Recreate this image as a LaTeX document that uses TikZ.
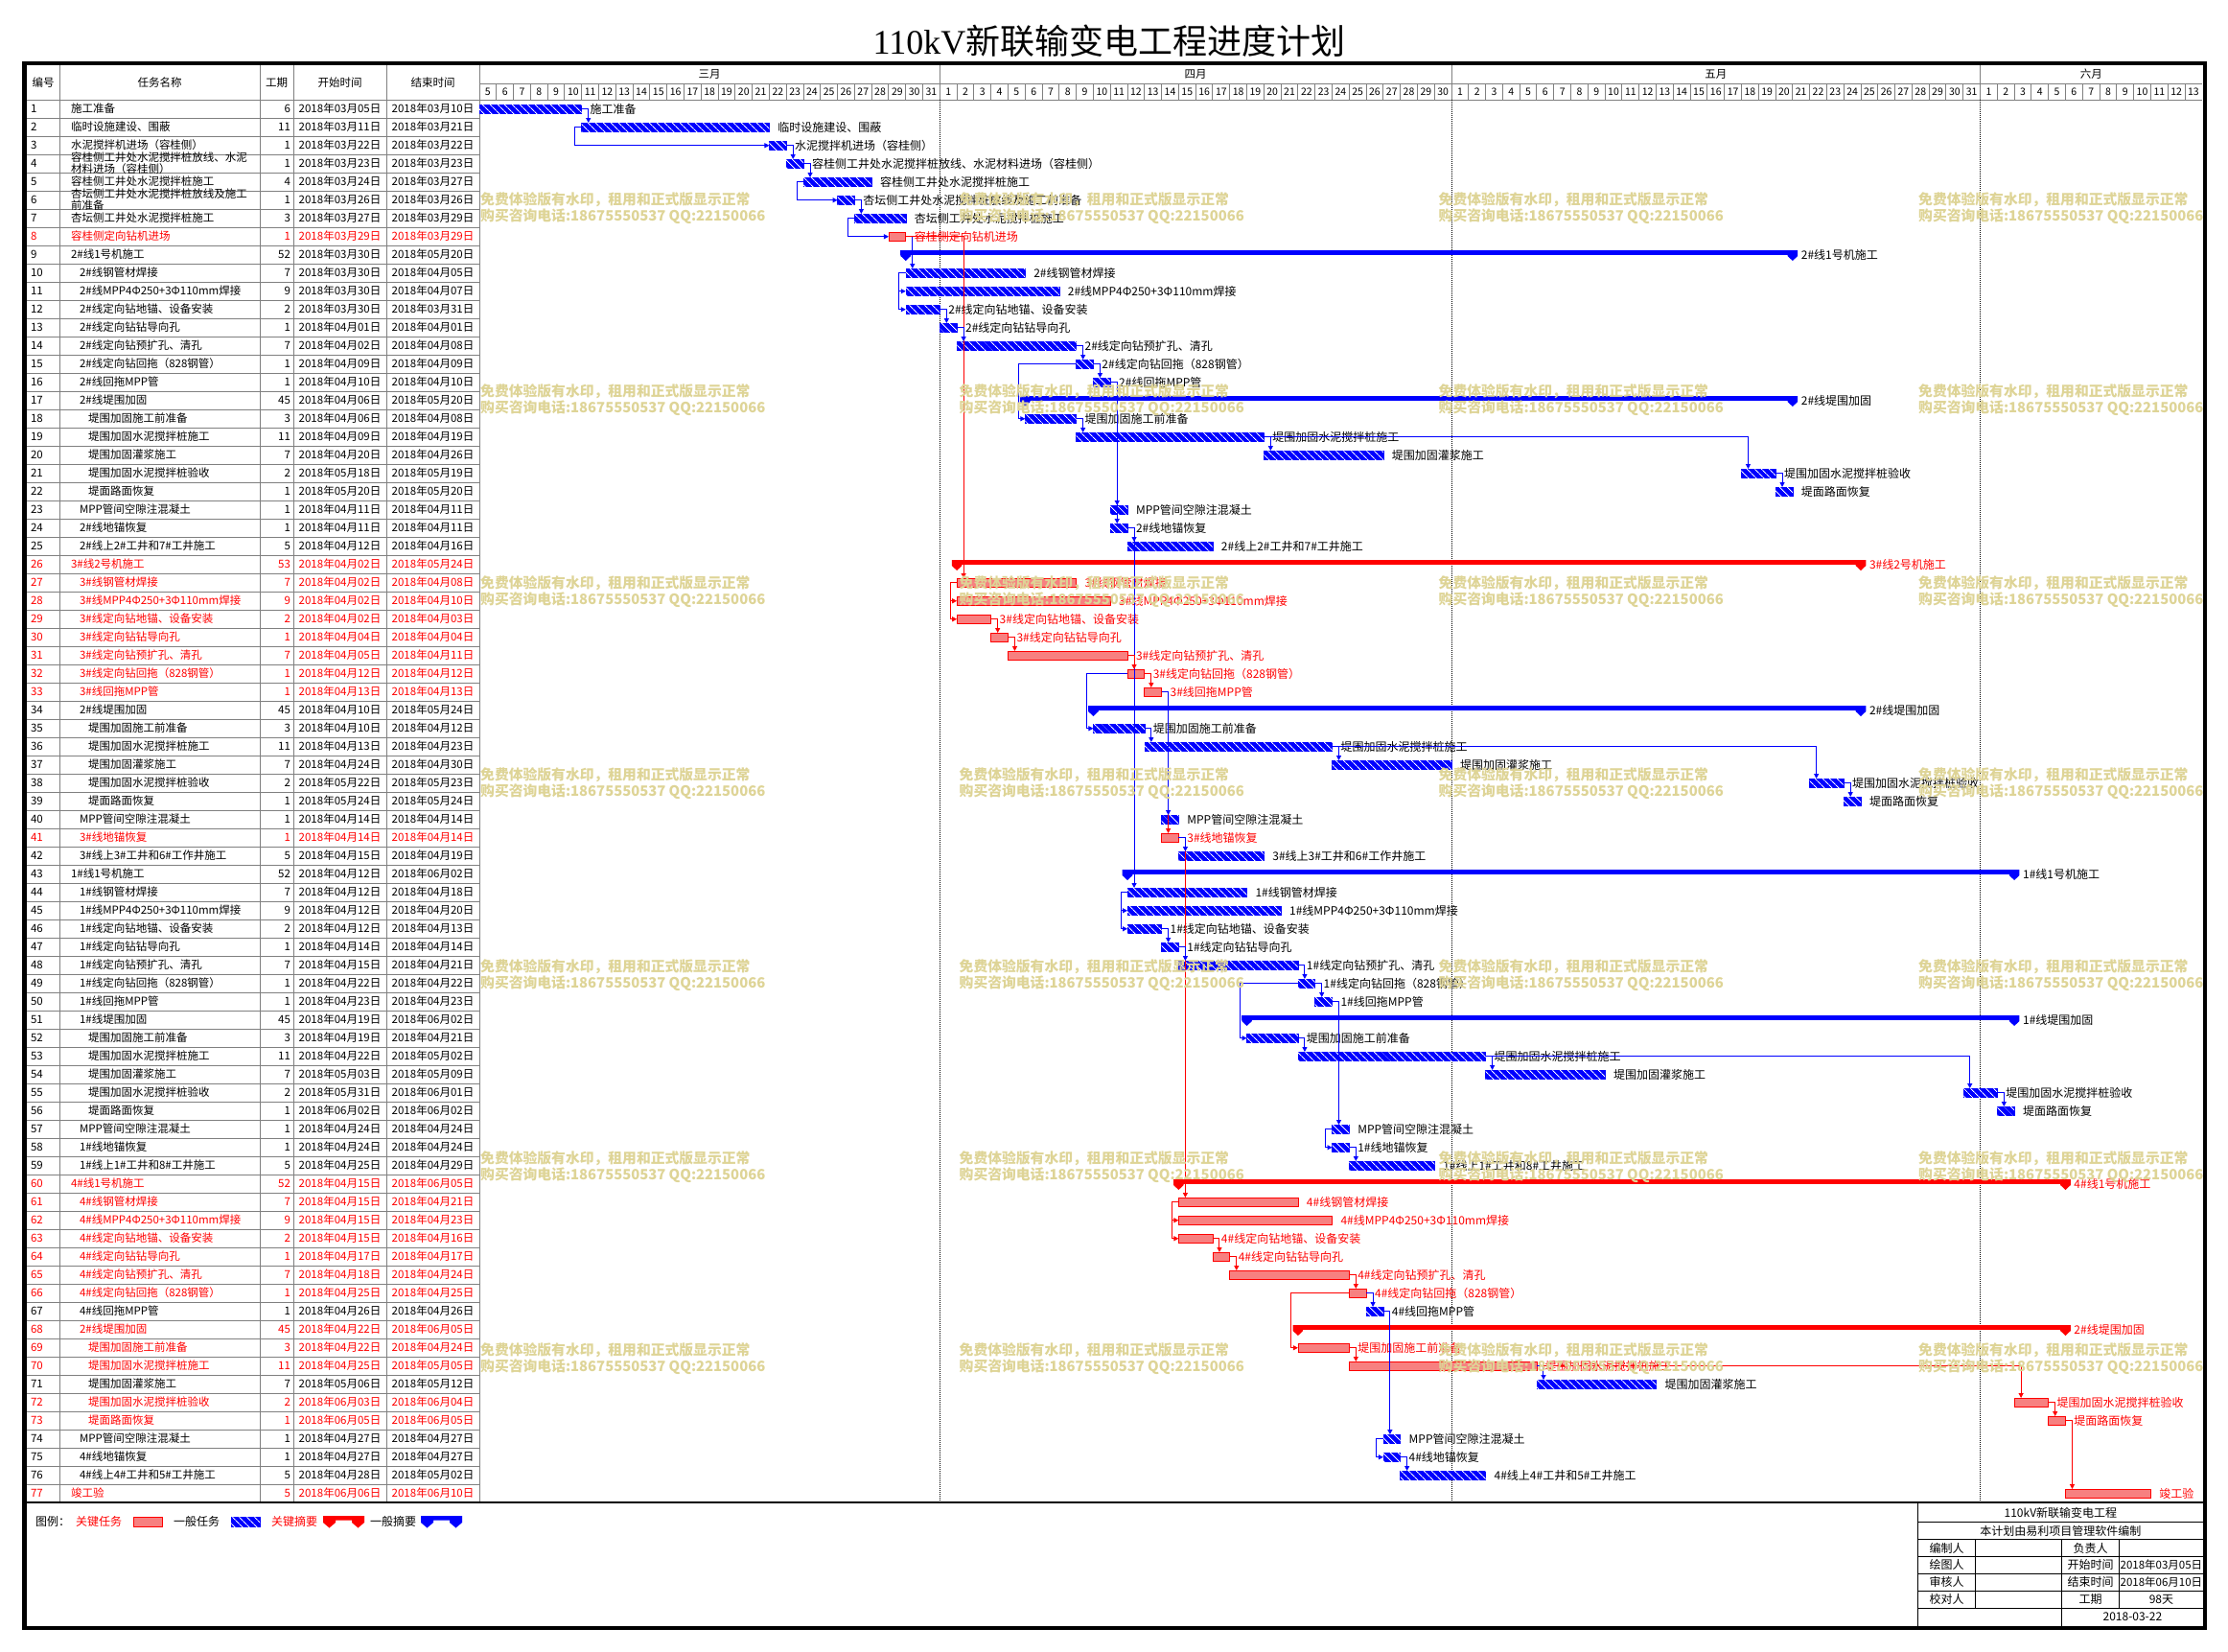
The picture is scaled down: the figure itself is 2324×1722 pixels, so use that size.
\documentclass[tikz,border=0pt]{standalone}
\usepackage{fontspec}
\setmainfont{Noto Sans CJK SC}
\newfontfamily\serifL{Liberation Serif}
\usetikzlibrary{patterns,patterns.meta,arrows.meta}
\definecolor{tblue}{RGB}{0,0,255}
\definecolor{tred}{RGB}{255,0,0}
\definecolor{tpink}{RGB}{245,90,90}
\definecolor{gridgray}{RGB}{128,128,128}
\definecolor{wmc}{RGB}{222,212,150}
\def\tyN{n}\def\tyC{c}\def\tyS{S}\def\tyK{K}
\def\brk{}
\tikzset{
  tab/.style={font=\fontsize{11.5}{12}\selectfont, inner sep=0pt, outer sep=0pt},
  lbl/.style={font=\fontsize{12}{12}\selectfont, inner sep=0pt, outer sep=0pt},
  hdr/.style={font=\fontsize{10.5}{11}\selectfont, inner sep=0pt},
  wm/.style={font=\fontsize{14.8}{15}\selectfont\bfseries, text=wmc, inner sep=0pt},
  gridl/.style={draw=gridgray, line width=1pt},
  barN/.style={fill=tblue, draw=tblue, line width=0.5pt, inner sep=0pt, outer sep=0pt, minimum height=9.5pt,
     postaction={pattern={Lines[angle=-45,distance=5.4pt,line width=0.9pt]}, pattern color=white}},
  barC/.style={fill=tpink, inner sep=0pt, outer sep=0pt, minimum height=9.5pt,
     postaction={pattern={Dots[distance=2pt,radius=0.7pt]}, pattern color=white},
     postaction={draw=tred, line width=0.8pt}},
  lnk/.style={draw=#1, line width=1pt, -{Triangle[length=5pt,width=5pt]}},
}
\newcommand\gSum[2]{%
  \pgfmathsetmacro\sW{\barW+10.6}%
  \node[inner sep=0pt,outer sep=0pt,fill=#2,minimum width=\sW pt,minimum height=4.8pt,anchor=north west] (b#1) at (\bxS-5.3,\rowT+5) {};
  \fill[#2] (\bxS-5.3,\rowT+5) -- (\bxS+5.3,\rowT+5) -- (\bxS+5.3,\rowT+11) -- (\bxS,\rowT+16) -- (\bxS-5.3,\rowT+11) -- cycle;
  \fill[#2] (\bxE-5.3,\rowT+5) -- (\bxE+5.3,\rowT+5) -- (\bxE+5.3,\rowT+11) -- (\bxE,\rowT+16) -- (\bxE-5.3,\rowT+11) -- cycle;
}
\newcommand\gRow[9]{%
  \pgfmathsetmacro\rowT{104+(#1-1)*19}%
  \pgfmathsetmacro\rowM{\rowT+9.5}%
  \pgfmathsetmacro\bxS{500+#7*17.79}%
  \pgfmathsetmacro\bxE{500+(#8+1)*17.79}%
  \pgfmathsetmacro\barW{(#8-#7+1)*17.79}%
  \def\ty{#9}%
  \def\tc{black}%
  \ifx\ty\tyC\def\tc{tred}\fi
  \ifx\ty\tyK\def\tc{tred}\fi
  \node[tab,anchor=west,text=\tc] (n#1) at (32,\rowM) {#1};
  \node[tab,anchor=west,align=left,text=\tc] (t#1) at (#3,\rowM) {\def\brk{\\}#2};
  \node[tab,anchor=east,text=\tc] (d#1) at (303,\rowM) {#4};
  \node[tab,text=\tc] (s#1) at (354.5,\rowM) {2018年#5日};
  \node[tab,text=\tc] (e#1) at (451.5,\rowM) {2018年#6日};
  \ifx\ty\tyN\node[barN,minimum width=\barW pt,anchor=north west] (b#1) at (\bxS,\rowT+5) {};\fi
  \ifx\ty\tyC\node[barC,minimum width=\barW pt,anchor=north west] (b#1) at (\bxS,\rowT+5) {};\fi
  \ifx\ty\tyS\gSum{#1}{tblue}\fi
  \ifx\ty\tyK\gSum{#1}{tred}\fi
  \node[lbl,anchor=west,text=\tc] (l#1) at (\bxE+9,\rowM) {#2};
}
\newcommand\lkA[3][tblue]{\draw[lnk=#1] (b#2.east) -| ([xshift=7pt]b#3.north west);}
\newcommand\lkB[3][tblue]{\draw[lnk=#1] (b#2.west) -- ++(-7pt,0pt) |- (b#3.west);}
\newcommand\lkC[3][tblue]{\draw[lnk=#1] (b#2.west) -| ([xshift=-7pt]b#3.west) -- (b#3.west);}
\begin{document}
\begin{tikzpicture}[x=1pt,y=-1pt]
\useasboundingbox (0,0) rectangle (2324,1722);
\fill[white] (0,0) rectangle (2324,1722);
% title
\node[inner sep=0pt] (title) at (1157,43) {\fontsize{36}{36}\selectfont{\serifL 110kV}新联输变电工程进度计划};
% header texts
\foreach \x/\t/\nm in {45/编号/h1,166.5/任务名称/h2,288.5/工期/h3,354.5/开始时间/h4,451.5/结束时间/h5}
  \node[tab] (\nm) at (\x,86) {\t};
\foreach \x/\t/\nm in {740.2/三月/m3,1247.2/四月/m4,1789.8/五月/m5,2181.3/六月/m6}
  \node[tab] (\nm) at (\x,77.5) {\t};
\foreach \i in {0,...,100} {
  \pgfmathtruncatemacro\dd{(\i<=26)*(\i+5)+(\i>26)*(\i<=56)*(\i-26)+(\i>56)*(\i<=87)*(\i-56)+(\i>87)*(\i-87)}
  \node[hdr] (day\i) at ({500+(\i+0.5)*17.79},95.5) {\dd};
}
% grid
\draw[gridl] (28,104) -- (2297,104);
\draw[gridl] (500,87) -- (2297,87);
\foreach \k in {1,...,76} \draw[gridl] (28,{104+\k*19}) -- (500,{104+\k*19});
\foreach \x in {62,271,306,403,500} \draw[gridl] (\x,68) -- (\x,1567);
\foreach \x in {980.33,1514.03,2065.52} \draw[gridl] (\x,68) -- (\x,87);
\foreach \i in {1,...,100} \draw[gridl] ({500+\i*17.79},87) -- ({500+\i*17.79},104);
\foreach \x in {980.33,1514.03,2065.52} \draw[black,line width=1pt,dash pattern=on 1pt off 1pt] (\x,104) -- (\x,1567);
% rows
\gRow{1}{施工准备}{74}{6}{03月05}{03月10}{0}{5}{n}
\gRow{2}{临时设施建设、围蔽}{74}{11}{03月11}{03月21}{6}{16}{n}
\gRow{3}{水泥搅拌机进场（容桂侧）}{74}{1}{03月22}{03月22}{17}{17}{n}
\gRow{4}{容桂侧工井处水泥搅拌桩放线、水泥\brk 材料进场（容桂侧）}{74}{1}{03月23}{03月23}{18}{18}{n}
\gRow{5}{容桂侧工井处水泥搅拌桩施工}{74}{4}{03月24}{03月27}{19}{22}{n}
\gRow{6}{杏坛侧工井处水泥搅拌桩放线及施工\brk 前准备}{74}{1}{03月26}{03月26}{21}{21}{n}
\gRow{7}{杏坛侧工井处水泥搅拌桩施工}{74}{3}{03月27}{03月29}{22}{24}{n}
\gRow{8}{容桂侧定向钻机进场}{74}{1}{03月29}{03月29}{24}{24}{c}
\gRow{9}{2\#线1号机施工}{74}{52}{03月30}{05月20}{25}{76}{S}
\gRow{10}{2\#线钢管材焊接}{83}{7}{03月30}{04月05}{25}{31}{n}
\gRow{11}{2\#线MPP4Φ250+3Φ110mm焊接}{83}{9}{03月30}{04月07}{25}{33}{n}
\gRow{12}{2\#线定向钻地锚、设备安装}{83}{2}{03月30}{03月31}{25}{26}{n}
\gRow{13}{2\#线定向钻钻导向孔}{83}{1}{04月01}{04月01}{27}{27}{n}
\gRow{14}{2\#线定向钻预扩孔、清孔}{83}{7}{04月02}{04月08}{28}{34}{n}
\gRow{15}{2\#线定向钻回拖（828钢管）}{83}{1}{04月09}{04月09}{35}{35}{n}
\gRow{16}{2\#线回拖MPP管}{83}{1}{04月10}{04月10}{36}{36}{n}
\gRow{17}{2\#线堤围加固}{83}{45}{04月06}{05月20}{32}{76}{S}
\gRow{18}{堤围加固施工前准备}{92}{3}{04月06}{04月08}{32}{34}{n}
\gRow{19}{堤围加固水泥搅拌桩施工}{92}{11}{04月09}{04月19}{35}{45}{n}
\gRow{20}{堤围加固灌浆施工}{92}{7}{04月20}{04月26}{46}{52}{n}
\gRow{21}{堤围加固水泥搅拌桩验收}{92}{2}{05月18}{05月19}{74}{75}{n}
\gRow{22}{堤面路面恢复}{92}{1}{05月20}{05月20}{76}{76}{n}
\gRow{23}{MPP管间空隙注混凝土}{83}{1}{04月11}{04月11}{37}{37}{n}
\gRow{24}{2\#线地锚恢复}{83}{1}{04月11}{04月11}{37}{37}{n}
\gRow{25}{2\#线上2\#工井和7\#工井施工}{83}{5}{04月12}{04月16}{38}{42}{n}
\gRow{26}{3\#线2号机施工}{74}{53}{04月02}{05月24}{28}{80}{K}
\gRow{27}{3\#线钢管材焊接}{83}{7}{04月02}{04月08}{28}{34}{c}
\gRow{28}{3\#线MPP4Φ250+3Φ110mm焊接}{83}{9}{04月02}{04月10}{28}{36}{c}
\gRow{29}{3\#线定向钻地锚、设备安装}{83}{2}{04月02}{04月03}{28}{29}{c}
\gRow{30}{3\#线定向钻钻导向孔}{83}{1}{04月04}{04月04}{30}{30}{c}
\gRow{31}{3\#线定向钻预扩孔、清孔}{83}{7}{04月05}{04月11}{31}{37}{c}
\gRow{32}{3\#线定向钻回拖（828钢管）}{83}{1}{04月12}{04月12}{38}{38}{c}
\gRow{33}{3\#线回拖MPP管}{83}{1}{04月13}{04月13}{39}{39}{c}
\gRow{34}{2\#线堤围加固}{83}{45}{04月10}{05月24}{36}{80}{S}
\gRow{35}{堤围加固施工前准备}{92}{3}{04月10}{04月12}{36}{38}{n}
\gRow{36}{堤围加固水泥搅拌桩施工}{92}{11}{04月13}{04月23}{39}{49}{n}
\gRow{37}{堤围加固灌浆施工}{92}{7}{04月24}{04月30}{50}{56}{n}
\gRow{38}{堤围加固水泥搅拌桩验收}{92}{2}{05月22}{05月23}{78}{79}{n}
\gRow{39}{堤面路面恢复}{92}{1}{05月24}{05月24}{80}{80}{n}
\gRow{40}{MPP管间空隙注混凝土}{83}{1}{04月14}{04月14}{40}{40}{n}
\gRow{41}{3\#线地锚恢复}{83}{1}{04月14}{04月14}{40}{40}{c}
\gRow{42}{3\#线上3\#工井和6\#工作井施工}{83}{5}{04月15}{04月19}{41}{45}{n}
\gRow{43}{1\#线1号机施工}{74}{52}{04月12}{06月02}{38}{89}{S}
\gRow{44}{1\#线钢管材焊接}{83}{7}{04月12}{04月18}{38}{44}{n}
\gRow{45}{1\#线MPP4Φ250+3Φ110mm焊接}{83}{9}{04月12}{04月20}{38}{46}{n}
\gRow{46}{1\#线定向钻地锚、设备安装}{83}{2}{04月12}{04月13}{38}{39}{n}
\gRow{47}{1\#线定向钻钻导向孔}{83}{1}{04月14}{04月14}{40}{40}{n}
\gRow{48}{1\#线定向钻预扩孔、清孔}{83}{7}{04月15}{04月21}{41}{47}{n}
\gRow{49}{1\#线定向钻回拖（828钢管）}{83}{1}{04月22}{04月22}{48}{48}{n}
\gRow{50}{1\#线回拖MPP管}{83}{1}{04月23}{04月23}{49}{49}{n}
\gRow{51}{1\#线堤围加固}{83}{45}{04月19}{06月02}{45}{89}{S}
\gRow{52}{堤围加固施工前准备}{92}{3}{04月19}{04月21}{45}{47}{n}
\gRow{53}{堤围加固水泥搅拌桩施工}{92}{11}{04月22}{05月02}{48}{58}{n}
\gRow{54}{堤围加固灌浆施工}{92}{7}{05月03}{05月09}{59}{65}{n}
\gRow{55}{堤围加固水泥搅拌桩验收}{92}{2}{05月31}{06月01}{87}{88}{n}
\gRow{56}{堤面路面恢复}{92}{1}{06月02}{06月02}{89}{89}{n}
\gRow{57}{MPP管间空隙注混凝土}{83}{1}{04月24}{04月24}{50}{50}{n}
\gRow{58}{1\#线地锚恢复}{83}{1}{04月24}{04月24}{50}{50}{n}
\gRow{59}{1\#线上1\#工井和8\#工井施工}{83}{5}{04月25}{04月29}{51}{55}{n}
\gRow{60}{4\#线1号机施工}{74}{52}{04月15}{06月05}{41}{92}{K}
\gRow{61}{4\#线钢管材焊接}{83}{7}{04月15}{04月21}{41}{47}{c}
\gRow{62}{4\#线MPP4Φ250+3Φ110mm焊接}{83}{9}{04月15}{04月23}{41}{49}{c}
\gRow{63}{4\#线定向钻地锚、设备安装}{83}{2}{04月15}{04月16}{41}{42}{c}
\gRow{64}{4\#线定向钻钻导向孔}{83}{1}{04月17}{04月17}{43}{43}{c}
\gRow{65}{4\#线定向钻预扩孔、清孔}{83}{7}{04月18}{04月24}{44}{50}{c}
\gRow{66}{4\#线定向钻回拖（828钢管）}{83}{1}{04月25}{04月25}{51}{51}{c}
\gRow{67}{4\#线回拖MPP管}{83}{1}{04月26}{04月26}{52}{52}{n}
\gRow{68}{2\#线堤围加固}{83}{45}{04月22}{06月05}{48}{92}{K}
\gRow{69}{堤围加固施工前准备}{92}{3}{04月22}{04月24}{48}{50}{c}
\gRow{70}{堤围加固水泥搅拌桩施工}{92}{11}{04月25}{05月05}{51}{61}{c}
\gRow{71}{堤围加固灌浆施工}{92}{7}{05月06}{05月12}{62}{68}{n}
\gRow{72}{堤围加固水泥搅拌桩验收}{92}{2}{06月03}{06月04}{90}{91}{c}
\gRow{73}{堤面路面恢复}{92}{1}{06月05}{06月05}{92}{92}{c}
\gRow{74}{MPP管间空隙注混凝土}{83}{1}{04月27}{04月27}{53}{53}{n}
\gRow{75}{4\#线地锚恢复}{83}{1}{04月27}{04月27}{53}{53}{n}
\gRow{76}{4\#线上4\#工井和5\#工井施工}{83}{5}{04月28}{05月02}{54}{58}{n}
\gRow{77}{竣工验}{74}{5}{06月06}{06月10}{93}{97}{c}
% links
\lkA{1}{2}\lkB{2}{3}\lkA{3}{4}\lkA{4}{5}\lkB{5}{6}\lkA{6}{7}\lkB{7}{8}
\lkA{8}{10}\lkA[tred]{8}{27}
\lkB{10}{11}\lkB{10}{12}\lkA{12}{13}\lkA{13}{14}\lkA{14}{15}\lkA{15}{16}\lkC{15}{18}
\lkA{16}{23}\lkA{16}{24}\lkA{18}{19}\lkA{19}{20}\lkA{19}{21}\lkA{21}{22}
\lkA{24}{25}\lkA{24}{44}
\lkB[tred]{27}{28}\lkB[tred]{27}{29}\lkA[tred]{29}{30}\lkA[tred]{30}{31}\lkA[tred]{31}{32}\lkA[tred]{32}{33}
\lkC{32}{35}\lkA[tred]{33}{41}\lkA{33}{40}
\lkA{35}{36}\lkA{36}{37}\lkA{36}{38}\lkA{38}{39}
\lkA[tred]{41}{61}\lkA{41}{42}
\lkB{44}{45}\lkB{44}{46}\lkA{46}{47}\lkA{47}{48}\lkA{48}{49}\lkA{49}{50}\lkC{49}{52}
\lkA{50}{57}\lkB{57}{58}\lkA{58}{59}\lkA{52}{53}\lkA{53}{54}\lkA{53}{55}\lkA{55}{56}
\lkB[tred]{61}{62}\lkB[tred]{61}{63}\lkA[tred]{63}{64}\lkA[tred]{64}{65}\lkA[tred]{65}{66}
\lkA{66}{67}\lkC[tred]{66}{69}\lkA{67}{74}\lkB{74}{75}\lkA{75}{76}
\lkA[tred]{69}{70}\lkA[tred]{70}{72}\lkA{70}{71}\lkA[tred]{72}{73}\lkA[tred]{73}{77}
% watermarks
\foreach \cx [count=\ci] in {501,1000.5,1500.5,2001} \foreach \ry in {0,...,6} {
  \node[wm,anchor=west] (wa\ci-\ry) at (\cx,{208.3+\ry*200}) {免费体验版有水印，租用和正式版显示正常};
  \node[wm,anchor=west] (wb\ci-\ry) at (\cx,{226+\ry*200}) {购买咨询电话:18675550537 QQ:22150066};
}
% legend
\draw[black,line width=1.5pt] (28,1567) -- (2298,1567);
\node[lbl,anchor=west] (lg0) at (37,1587) {图例：};
\node[lbl,anchor=west,text=tred] (lg1) at (79,1587) {关键任务};
\node[barC,minimum width=30pt,minimum height=10pt,anchor=west] (lgb1) at (139,1587) {};
\node[lbl,anchor=west] (lg2) at (181,1587) {一般任务};
\node[barN,minimum width=30pt,minimum height=10pt,anchor=west] (lgb2) at (241,1587) {};
\node[lbl,anchor=west,text=tred] (lg3) at (283,1587) {关键摘要};
\fill[tred] (337,1581) -- (380,1581) -- (380,1588) -- (373.5,1593.5) -- (367,1588) -- (367,1585.5) -- (350,1585.5) -- (350,1588) -- (343.5,1593.5) -- (337,1588) -- cycle;
\node[lbl,anchor=west] (lg4) at (386,1587) {一般摘要};
\fill[tblue] (439,1581) -- (482,1581) -- (482,1588) -- (475.5,1593.5) -- (469,1588) -- (469,1585.5) -- (452,1585.5) -- (452,1588) -- (445.5,1593.5) -- (439,1588) -- cycle;
% info box
\foreach \y in {1587.7,1605.7,1623.3,1641.3,1659.3,1677.3} \draw[black,line width=1pt] (2000.7,\y) -- (2298,\y);
\draw[black,line width=1pt] (2000.7,1567) -- (2000.7,1698);
\draw[black,line width=1pt] (2150.7,1605.7) -- (2150.7,1698);
\draw[black,line width=1pt] (2060.7,1605.7) -- (2060.7,1677.3);
\draw[black,line width=1pt] (2210.7,1605.7) -- (2210.7,1677.3);
\node[lbl] (ib1) at (2149.4,1578) {110kV新联输变电工程};
\node[lbl] (ib2) at (2149.4,1596.7) {本计划由易利项目管理软件编制};
\node[lbl] (ib3) at (2030.7,1614.5) {编制人};
\node[lbl] (ib4) at (2180.7,1614.5) {负责人};
\node[lbl] (ib5) at (2030.7,1632.3) {绘图人};
\node[lbl] (ib6) at (2180.7,1632.3) {开始时间};
\node[tab] (ib7) at (2254.4,1632.3) {2018年03月05日};
\node[lbl] (ib8) at (2030.7,1650.3) {审核人};
\node[lbl] (ib9) at (2180.7,1650.3) {结束时间};
\node[tab] (ib10) at (2254.4,1650.3) {2018年06月10日};
\node[lbl] (ib11) at (2030.7,1668.3) {校对人};
\node[lbl] (ib12) at (2180.7,1668.3) {工期};
\node[lbl] (ib13) at (2254.4,1668.3) {98天};
\node[lbl] (ib14) at (2224.4,1686.3) {2018-03-22};
% frame
\draw[black,line width=4.5pt] (25.5,66) rectangle (2300,1698);
\end{tikzpicture}
\end{document}
